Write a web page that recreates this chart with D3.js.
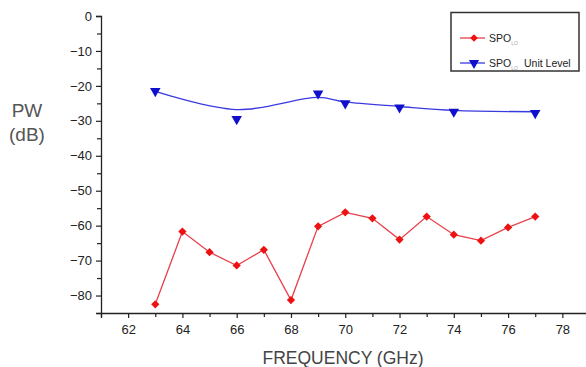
<!DOCTYPE html>
<html>
<head>
<meta charset="utf-8">
<script src="https://cdn.jsdelivr.net/npm/d3@7"></script>
<style>
  body { margin: 0; background: #fff; }
  svg { display: block; font-family: "Liberation Sans", Arial, sans-serif; }
</style>
</head>
<body>
<svg id="chart" width="586" height="367"></svg>
<script>
// data
const redFreq = [63, 64, 65, 66, 67, 68, 69, 70, 71, 72, 73, 74, 75, 76, 77];
const redPw = [-82.5, -61.7, -67.6, -71.4, -66.9, -81.3, -60.2, -56.2, -57.9, -64.0, -57.4, -62.6, -64.3, -60.5, -57.4];

const blueFreq = [63, 66, 69, 70, 72, 74, 77];
const bluePw = [-21.5, -29.5, -22.2, -25.0, -26.2, -27.4, -27.8];
// smoothed curve drawn through the blue series
const blueFit = [-21.6, -26.8, -23.3, -24.6, -25.9, -27.0, -27.4];

const xTicks = [62, 64, 66, 68, 70, 72, 74, 76, 78];
const yTicks = [0, -10, -20, -30, -40, -50, -60, -70, -80];

const svg = d3.select("#chart");
const plotLeft = 101, plotTop = 16, plotBottom = 313;

const x = d3.scaleLinear().domain([61, 79]).range([plotLeft, 589.5]);
const y = d3.scaleLinear().domain([0, -85]).range([plotTop, plotBottom]);

// axes
const xAxis = svg.append("g").attr("transform", `translate(0,${plotBottom})`)
  .call(d3.axisBottom(x).tickValues(xTicks).tickSize(5).tickPadding(7).tickFormat(d3.format("d")));
const xMinor = svg.append("g").attr("transform", `translate(0,${plotBottom})`)
  .call(d3.axisBottom(x).tickValues(d3.range(61, 80, 1).filter(v => v % 2 === 1)).tickSize(4).tickFormat(""));
const yAxis = svg.append("g").attr("transform", `translate(${plotLeft},0)`)
  .call(d3.axisLeft(y).tickValues(yTicks).tickSize(5).tickPadding(4).tickFormat(d3.format("d")));
const yMinor = svg.append("g").attr("transform", `translate(${plotLeft},0)`)
  .call(d3.axisLeft(y).tickValues(d3.range(-5, -90, -10)).tickSize(4).tickFormat(""));

[xAxis, xMinor, yAxis, yMinor].forEach(g => {
  g.select(".domain").attr("stroke", "#222").attr("stroke-width", 1.3);
  g.selectAll(".tick line").attr("stroke", "#222").attr("stroke-width", 1.2);
  g.selectAll(".tick text").attr("fill", "#222").style("font-size", "13px");
});
xMinor.select(".domain").remove();
yMinor.select(".domain").remove();

// axis titles
svg.append("text").attr("x", 27).attr("y", 117).attr("text-anchor", "middle")
  .style("font-size", "19px").attr("fill", "#555").text("PW");
svg.append("text").attr("x", 27).attr("y", 141).attr("text-anchor", "middle")
  .style("font-size", "19px").attr("fill", "#555").text("(dB)");
svg.append("text").attr("x", 343).attr("y", 364).attr("text-anchor", "middle")
  .style("font-size", "17.5px").attr("fill", "#444").text("FREQUENCY (GHz)");

const red = "#ee1111", redLine = "#e8404a", blue = "#1010cc", blueLine = "#3a3ae0";

// red series
const redData = redFreq.map((f, i) => ({ f, v: redPw[i] }));
svg.append("path").datum(redData)
  .attr("fill", "none").attr("stroke", redLine).attr("stroke-width", 1.3)
  .attr("d", d3.line().x(d => x(d.f)).y(d => y(d.v)));
svg.selectAll(".rm").data(redData).join("path").attr("class", "rm")
  .attr("transform", d => `translate(${x(d.f)},${y(d.v)}) rotate(45)`)
  .attr("d", d3.symbol(d3.symbolSquare, 34)).attr("fill", red);

// blue series: smooth fit + markers
const fitData = blueFreq.map((f, i) => ({ f, v: blueFit[i] }));
svg.append("path").datum(fitData)
  .attr("fill", "none").attr("stroke", blueLine).attr("stroke-width", 1.3)
  .attr("d", d3.line().curve(d3.curveCatmullRom).x(d => x(d.f)).y(d => y(d.v)));
const blueData = blueFreq.map((f, i) => ({ f, v: bluePw[i] }));
svg.selectAll(".bm").data(blueData).join("path").attr("class", "bm")
  .attr("transform", d => `translate(${x(d.f)},${y(d.v)}) rotate(180)`)
  .attr("d", d3.symbol(d3.symbolTriangle, 48)).attr("fill", blue);

// legend
const lg = svg.append("g");
lg.append("rect").attr("x", 451).attr("y", 12.5).attr("width", 128).attr("height", 58.5)
  .attr("fill", "#fff").attr("stroke", "#333").attr("stroke-width", 1.5);
const items = [
  { y: 38, line: redLine, col: red, sym: d3.symbolSquare, size: 30, rot: 45, extra: "" },
  { y: 63, line: blueLine, col: blue, sym: d3.symbolTriangle, size: 45, rot: 180, extra: "Unit Level" }
];
items.forEach(it => {
  lg.append("line").attr("x1", 460).attr("x2", 485).attr("y1", it.y).attr("y2", it.y)
    .attr("stroke", it.line).attr("stroke-width", 1.3);
  lg.append("path").attr("transform", `translate(474,${it.y}) rotate(${it.rot})`)
    .attr("d", d3.symbol(it.sym, it.size)).attr("fill", it.col);
  const t = lg.append("text").attr("x", 489).attr("y", it.y + 4).attr("fill", "#222")
    .style("font-size", "10.5px");
  t.append("tspan").text("SPO");
  t.append("tspan").attr("dy", 3).style("font-size", "5px").attr("fill", "#aaa").text("LO");
  if (it.extra) {
    lg.append("text").attr("x", 524).attr("y", it.y + 4).attr("fill", "#222")
      .style("font-size", "10.5px").text(it.extra);
  }
});
</script>
</body>
</html>
